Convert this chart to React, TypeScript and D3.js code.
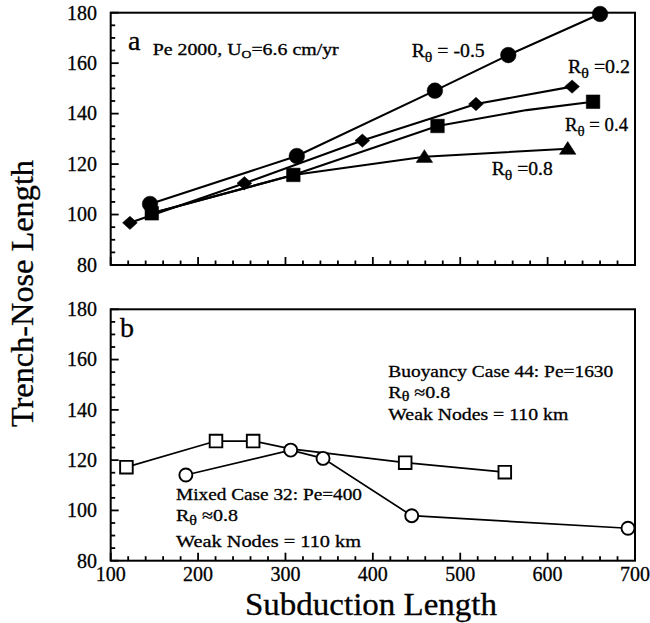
import React from "react";
import * as d3 from "d3";

const W = 650;
const H = 623;

// Subduction length values shared by both panels
const xTickValues = [100, 200, 300, 400, 500, 600, 700];
const yTickValues = [80, 100, 120, 140, 160, 180];

// Panel a: Pe 2000, U0 = 6.6 cm/yr
const rNeg05X = [145, 313, 471, 555, 660];
const rNeg05Y = [104.2, 123.2, 149.1, 163.2, 179.5];

const r02X = [122, 253, 388, 518, 628];
const r02Y = [96.7, 112.4, 129.3, 143.8, 150.7];

const r04X = [147, 309, 474, 576, 652];
const r04Y = [100.5, 115.7, 135.1, 141.4, 144.7];
const r04Marked = [true, true, true, false, true];

const r08X = [147, 309, 459, 623];
const r08Y = [100.5, 115.7, 122.9, 126.1];
const r08Marked = [false, false, true, true];

// Panel b: buoyancy case 44 and mixed case 32
const buoyX = [118, 220.5, 263, 306, 437, 551];
const buoyY = [117.2, 127.6, 127.6, 124.5, 119, 115.2];
const buoyMarked = [true, true, true, false, true, true];

const mixedX = [186, 306, 343, 444.5, 692];
const mixedY = [114.1, 124, 120.7, 97.9, 92.9];

const FONT = "'Liberation Serif', 'Times New Roman', Times, serif";
const INK = { stroke: "#000", strokeWidth: 0.3 };

const LEFT = 110.7;
const RIGHT = 635;

const x = d3.scaleLinear().domain([100, 700]).range([LEFT, RIGHT]);
const yA = d3.scaleLinear().domain([80, 180]).range([265, 12.7]);
const yB = d3.scaleLinear().domain([80, 180]).range([560.7, 309.3]);

type Shape = "circle" | "diamond" | "square" | "triangle";

function markerPath(shape: Shape, cx: number, cy: number, s: number): string {
  const p = d3.path();
  if (shape === "circle") {
    p.moveTo(cx + s, cy);
    p.arc(cx, cy, s, 0, Math.PI * 2);
  } else if (shape === "square") {
    p.rect(cx - s, cy - s, 2 * s, 2 * s);
  } else if (shape === "diamond") {
    p.moveTo(cx, cy - s * 0.9);
    p.lineTo(cx + s, cy);
    p.lineTo(cx, cy + s * 0.9);
    p.lineTo(cx - s, cy);
    p.closePath();
  } else {
    p.moveTo(cx, cy - s * 0.95);
    p.lineTo(cx + s * 1.1, cy + s * 0.75);
    p.lineTo(cx - s * 1.1, cy + s * 0.75);
    p.closePath();
  }
  return p.toString();
}

function Series({
  xs, ys, y, shape, size, filled, marked, lineWidth,
}: {
  xs: number[]; ys: number[]; y: d3.ScaleLinear<number, number>;
  shape: Shape; size: number; filled: boolean; marked?: boolean[]; lineWidth: number;
}) {
  const pts = xs.map((v, i) => [x(v), y(ys[i])] as [number, number]);
  const line = d3.line();
  return (
    <g>
      <path d={line(pts) || ""} fill="none" stroke="#000" strokeWidth={lineWidth} />
      {pts.map((p, i) =>
        marked && !marked[i] ? null : (
          <path
            key={i}
            d={markerPath(shape, p[0], p[1], size)}
            fill={filled ? "#000" : "#fff"}
            stroke="#000"
            strokeWidth={filled ? 0.5 : 1.9}
          />
        )
      )}
    </g>
  );
}

function Frame({ y, labels }: { y: d3.ScaleLinear<number, number>; labels: boolean }) {
  const [bottom, top] = y.range();
  const yMinor = d3.range(80, 181, 5);
  const xMinor = d3.range(100, 701, 20);
  return (
    <g>
      <rect x={LEFT} y={top} width={RIGHT - LEFT} height={bottom - top} fill="none" stroke="#000" strokeWidth={2} />
      {yMinor.map((v) => (
        <line key={"y" + v} x1={LEFT} x2={LEFT + (v % 20 === 0 ? 8 : 4.5)} y1={y(v)} y2={y(v)} stroke="#000" strokeWidth={1.8} />
      ))}
      {xMinor.map((v) => (
        <line key={"x" + v} x1={x(v)} x2={x(v)} y1={bottom} y2={bottom - (v % 100 === 0 ? 8 : 4.5)} stroke="#000" strokeWidth={1.8} />
      ))}
      {yTickValues.map((v) => (
        <text key={"yl" + v} x={97} y={y(v)} dy="0.34em" textAnchor="end" fontSize={20} fontFamily={FONT} {...INK}>
          {v}
        </text>
      ))}
      {labels &&
        xTickValues.map((v) => (
          <text key={"xl" + v} x={x(v)} y={581} textAnchor="middle" fontSize={20} fontFamily={FONT} {...INK}>
            {v}
          </text>
        ))}
    </g>
  );
}

function RLabel({ px, py, rest, size, width, drop }: { px: number; py: number; rest: string; size: number; width: number; drop: number }) {
  return (
    <text x={px} y={py} fontSize={size} fontFamily={FONT} textLength={width} lengthAdjust="spacingAndGlyphs" {...INK}>
      R
      <tspan fontSize={size * 0.8} dy={drop}>θ</tspan>
      <tspan dy={-drop}>{rest}</tspan>
    </text>
  );
}

export default function App() {
  return (
    <div style={{ position: "absolute", left: 0, top: 0 }}>
      <svg width={W} height={H} viewBox={`0 0 ${W} ${H}`} style={{ display: "block", background: "#fff" }}>
        {/* Panel a */}
        <Frame y={yA} labels={false} />
        <Series xs={r08X} ys={r08Y} y={yA} shape="triangle" size={7.5} filled marked={r08Marked} lineWidth={2.1} />
        <Series xs={r04X} ys={r04Y} y={yA} shape="square" size={6.8} filled marked={r04Marked} lineWidth={2.1} />
        <Series xs={r02X} ys={r02Y} y={yA} shape="diamond" size={7.4} filled lineWidth={2.1} />
        <Series xs={rNeg05X} ys={rNeg05Y} y={yA} shape="circle" size={7.8} filled lineWidth={2.1} />

        <text x={128} y={50} fontSize={28} fontFamily={FONT} {...INK}>a</text>
        <text x={152.7} y={55} fontSize={16} fontFamily={FONT} textLength={186} lengthAdjust="spacingAndGlyphs" {...INK}>
          Pe 2000, U<tspan fontSize={11} dy={3}>O</tspan><tspan dy={-3}>=6.6 cm/yr</tspan>
        </text>
        <RLabel px={411.7} py={57.3} rest=" = -0.5" size={18} width={73} drop={5} />
        <RLabel px={568} py={72.7} rest=" =0.2" size={18} width={62} drop={5} />
        <RLabel px={565} py={131} rest=" = 0.4" size={18} width={63} drop={5} />
        <RLabel px={491.7} py={175} rest=" =0.8" size={18} width={61} drop={5} />

        {/* Panel b */}
        <Frame y={yB} labels={true} />
        <Series xs={buoyX} ys={buoyY} y={yB} shape="square" size={6.3} filled={false} marked={buoyMarked} lineWidth={1.7} />
        <Series xs={mixedX} ys={mixedY} y={yB} shape="circle" size={6.5} filled={false} lineWidth={1.7} />

        <text x={120} y={336.7} fontSize={28} fontFamily={FONT} {...INK}>b</text>

        <text x={388.3} y={376.7} fontSize={17} fontFamily={FONT} textLength={225} lengthAdjust="spacingAndGlyphs" {...INK}>
          Buoyancy Case 44: Pe=1630
        </text>
        <RLabel px={388.3} py={397.5} rest=" ≈0.8" size={17} width={62} drop={3} />
        <text x={388.3} y={419.5} fontSize={17} fontFamily={FONT} textLength={180} lengthAdjust="spacingAndGlyphs" {...INK}>
          Weak Nodes = 110 km
        </text>

        <text x={176} y={500} fontSize={17} fontFamily={FONT} textLength={186} lengthAdjust="spacingAndGlyphs" {...INK}>
          Mixed Case 32: Pe=400
        </text>
        <RLabel px={176} py={520.7} rest=" ≈0.8" size={17} width={62} drop={4} />
        <text x={176} y={546.7} fontSize={17} fontFamily={FONT} textLength={185} lengthAdjust="spacingAndGlyphs" {...INK}>
          Weak Nodes = 110 km
        </text>

        {/* Axis titles */}
        <text
          transform="translate(33,293.5) rotate(-90)"
          textAnchor="middle"
          fontSize={31}
          fontFamily={FONT}
          textLength={267}
          lengthAdjust="spacingAndGlyphs"
          {...INK}
        >
          Trench-Nose Length
        </text>
        <text x={371} y={615} textAnchor="middle" fontSize={31} fontFamily={FONT} textLength={252} lengthAdjust="spacingAndGlyphs" {...INK}>
          Subduction Length
        </text>
      </svg>
    </div>
  );
}
